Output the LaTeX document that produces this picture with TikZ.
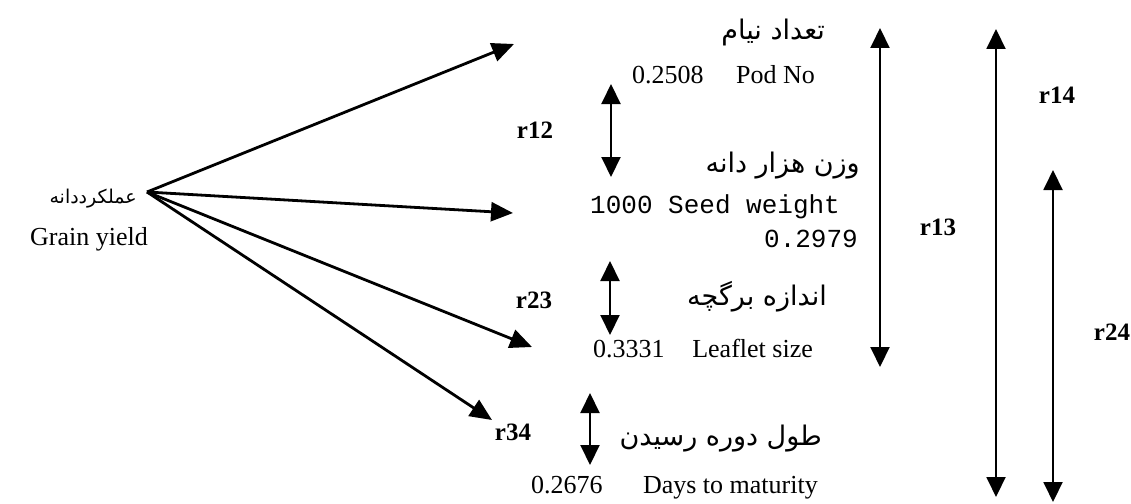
\documentclass[tikz,border=0pt]{standalone}
\usepackage{fontspec}
\setmainfont{Liberation Serif}
\setmonofont{Liberation Mono}
\newfontfamily\fa[Script=Arabic]{DejaVu Sans}
\TeXXeTstate=1
\usetikzlibrary{arrows.meta}
\tikzset{
  arr/.style={line width=2.8pt,-{Triangle[length=22pt,width=19pt]}},
  dbl/.style={line width=2pt,{Triangle[length=20pt,width=19pt]}-{Triangle[length=20pt,width=19pt]}},
  en/.style={inner sep=0pt,font=\fontsize{26}{28}\selectfont},
  tt/.style={inner sep=0pt,font=\fontsize{26}{28}\selectfont\ttfamily},
  fatxt/.style={inner sep=0pt,font=\fontsize{27}{30}\selectfont\fa},
  rlab/.style={inner sep=0pt,font=\fontsize{25}{27}\selectfont\bfseries},
}
\begin{document}
\begin{tikzpicture}[x=1pt,y=-1pt]
\useasboundingbox (0,0) rectangle (1131,503);
% source
\node[fatxt,anchor=base east,font=\fontsize{19}{22}\selectfont\fa] (srcfa) at (137,203) {\beginR عملکرددانه\endR};
\node[en,anchor=base east] (srcen) at (148,245) {Grain yield};
\coordinate (src) at (147,192);
\coordinate (t1) at (514,44);
\coordinate (t2) at (513,213);
\coordinate (t3) at (532,347);
\coordinate (t4) at (492,420);
\draw[arr] (src) -- (t1);
\draw[arr] (src) -- (t2);
\draw[arr] (src) -- (t3);
\draw[arr] (src) -- (t4);
% variables
\node[fatxt,anchor=base east] (p1fa) at (825,40) {\beginR تعداد نیام\endR};
\node[en,anchor=base west] (p1num) at (632,83) {0.2508};
\node[en,anchor=base east] (p1en) at (815,83) {Pod No};
\node[fatxt,anchor=base east] (p2fa) at (860,172) {\beginR وزن هزار دانه\endR};
\node[tt,anchor=base west] (p2en) at (590,213) {1000 Seed weight};
\node[tt,anchor=base east] (p2num) at (858,247) {0.2979};
\node[fatxt,anchor=base east] (p3fa) at (827,305) {\beginR اندازه برگچه\endR};
\node[en,anchor=base west] (p3num) at (593,357) {0.3331};
\node[en,anchor=base east] (p3en) at (813,357) {Leaflet size};
\node[fatxt,anchor=base east] (p4fa) at (822,445) {\beginR طول دوره رسیدن\endR};
\node[en,anchor=base west] (p4num) at (531,493) {0.2676};
\node[en,anchor=base east] (p4en) at (818,493) {Days to maturity};
% correlation arrows
\coordinate (a12t) at (611,84);  \coordinate (a12b) at (611,177);
\coordinate (a23t) at (610,261); \coordinate (a23b) at (610,335);
\coordinate (a34t) at (590,393); \coordinate (a34b) at (590,465);
\coordinate (a13t) at (880,28);  \coordinate (a13b) at (880,367);
\coordinate (a14t) at (996,29);  \coordinate (a14b) at (996,497);
\coordinate (a24t) at (1053,170); \coordinate (a24b) at (1053,502);
\draw[dbl] (a12t) -- (a12b);
\draw[dbl] (a23t) -- (a23b);
\draw[dbl] (a34t) -- (a34b);
\draw[dbl] (a13t) -- (a13b);
\draw[dbl] (a14t) -- (a14b);
\draw[dbl] (a24t) -- (a24b);
\node[rlab] (r12) at (535,130) {r12};
\node[rlab] (r23) at (534,300) {r23};
\node[rlab] (r34) at (513,432) {r34};
\node[rlab] (r13) at (938,227) {r13};
\node[rlab] (r14) at (1057,95) {r14};
\node[rlab] (r24) at (1112,332) {r24};
\end{tikzpicture}
\end{document}
